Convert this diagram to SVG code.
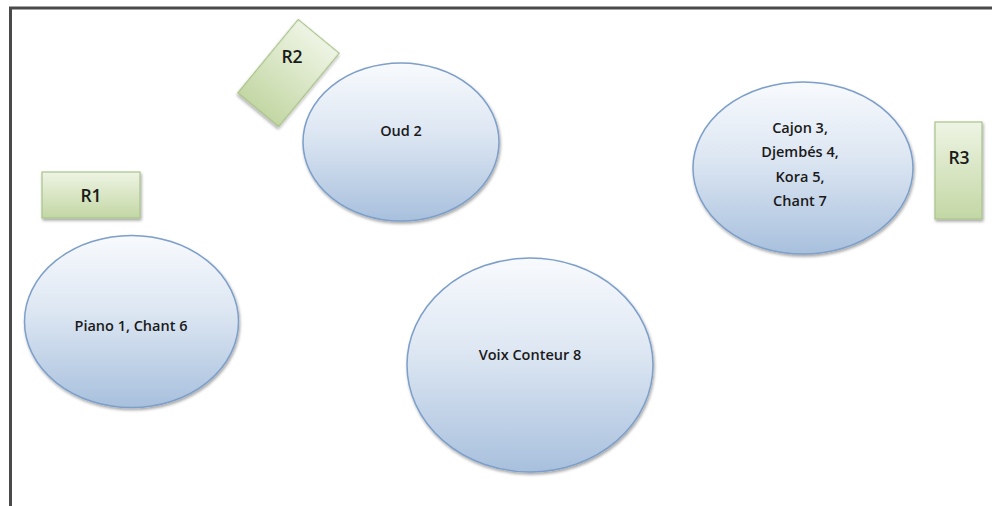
<svg xmlns="http://www.w3.org/2000/svg" width="992" height="506" viewBox="0 0 992 506">
<defs>
<linearGradient id="gBlue" x1="0" y1="0" x2="0" y2="1">
<stop offset="0" stop-color="#f8fafd"/>
<stop offset="0.45" stop-color="#dce6f2"/>
<stop offset="1" stop-color="#a8c0dd"/>
</linearGradient>
<linearGradient id="gGreen" x1="0" y1="0" x2="0" y2="1">
<stop offset="0" stop-color="#eef4e4"/>
<stop offset="1" stop-color="#c3d7a4"/>
</linearGradient>
<filter id="sh" x="-20%" y="-20%" width="140%" height="140%">
<feGaussianBlur in="SourceAlpha" stdDeviation="1.5"/>
<feOffset dx="1" dy="2" result="b"/>
<feComponentTransfer><feFuncA type="linear" slope="0.35"/></feComponentTransfer>
<feMerge><feMergeNode/><feMergeNode in="SourceGraphic"/></feMerge>
</filter>
</defs>
<style>
.ell{fill:url(#gBlue);stroke:#7d9fc9;stroke-width:1.5}
.rect{fill:url(#gGreen);stroke:#a9c38a;stroke-width:1.2}
.t{font-family:"Open Sans","Liberation Sans",sans-serif;font-size:14.5px;font-weight:600;fill:#1a1a1a;text-anchor:middle}
.r{font-family:"Open Sans","Liberation Sans",sans-serif;font-size:17.5px;font-weight:600;fill:#1a1a1a;text-anchor:middle}
.frame{fill:none;stroke:#4a4a4a;stroke-width:3}
</style>
<rect width="992" height="506" fill="#ffffff"/>
<path class="frame" d="M10.5 506 V8 H992"/>
<g id="connectors"/>
<g id="R1">
<rect class="rect" x="42" y="172" width="98" height="46" filter="url(#sh)"/>
<text class="r" x="91" y="202">R1</text>
</g>
<g id="R2">
<rect class="rect" x="-26.5" y="-47.5" width="53" height="95" transform="translate(288.5 73) rotate(39.5)" filter="url(#sh)"/>
<text class="r" x="292" y="63">R2</text>
</g>
<g id="R3">
<rect class="rect" x="935" y="122" width="47" height="97" filter="url(#sh)"/>
<text class="r" x="959" y="164">R3</text>
</g>
<g id="oud">
<ellipse class="ell" cx="401" cy="142" rx="98" ry="79" filter="url(#sh)"/>
<text class="t" x="401" y="136">Oud 2</text>
</g>
<g id="cajon">
<ellipse class="ell" cx="803" cy="168" rx="110" ry="86" filter="url(#sh)"/>
<text class="t" x="800" y="133">Cajon 3,</text>
<text class="t" x="800" y="157">Djembés 4,</text>
<text class="t" x="800" y="182">Kora 5,</text>
<text class="t" x="800" y="206">Chant 7</text>
</g>
<g id="piano">
<ellipse class="ell" cx="131.5" cy="321.5" rx="107" ry="86" filter="url(#sh)"/>
<text class="t" x="131" y="331">Piano 1, Chant 6</text>
</g>
<g id="voix">
<ellipse class="ell" cx="530" cy="365" rx="123" ry="107" filter="url(#sh)"/>
<text class="t" x="530" y="360">Voix Conteur 8</text>
</g>
</svg>
